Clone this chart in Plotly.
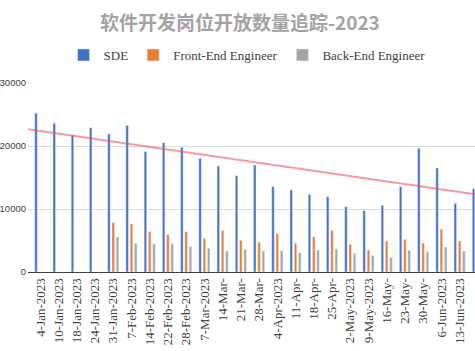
import plotly.graph_objects as go

categories = ["4-Jan-2023", "10-Jan-2023", "18-Jan-2023", "24-Jan-2023", "31-Jan-2023",
              "7-Feb-2023", "14-Feb-2023", "22-Feb-2023", "28-Feb-2023", "7-Mar-2023",
              "14-Mar-", "21-Mar-", "28-Mar-", "4-Apr-2023", "11-Apr-", "18-Apr-",
              "25-Apr-", "2-May-2023", "9-May-2023", "16-May-", "23-May-", "30-May-",
              "6-Jun-2023", "13-Jun-2023", "21-Jun-2023"]

sde = [25190, 23600, 21750, 22900, 21900, 23280, 19100, 20520, 19790, 18040,
       16830, 15290, 16980, 13540, 13020, 12330, 11960, 10370, 9740, 10580,
       13540, 19630, 16510, 10900, 13230]
front_end = [None, None, None, None, 7830, 7620, 6400, 5920, 6400, 5340,
             6560, 5030, 4710, 6080, 4550, 5610, 6610, 4390, 3490, 4920,
             5190, 4550, 6770, 4920, 5000]
back_end = [None, None, None, None, 5600, 4550, 4440, 4550, 4020, 3760,
            3330, 3600, 3330, 3380, 3070, 3490, 3650, 2960, 2590, 2280,
            3440, 3280, 3970, 3330, 3400]

# SDE linear trend, values read at the left and right edges of the plot
trend_values = [22650, 12330]

y_ticks = [0, 10000, 20000, 30000]
y_tick_labels = ["0", "10000", "20000", "30000"]

x_range = [-0.675, 23.845]
idx = list(range(len(categories)))

serif = "Liberation Serif, Times New Roman, serif"

fig = go.Figure()
fig.add_trace(go.Bar(x=idx, y=sde, name="SDE", marker_color="#4472C4"))
fig.add_trace(go.Bar(x=idx, y=front_end, name="Front-End Engineer", marker_color="#ED7D31"))
fig.add_trace(go.Bar(x=idx, y=back_end, name="Back-End Engineer", marker_color="#A5A5A5"))
fig.add_trace(go.Scatter(x=x_range, y=trend_values, mode="lines",
                         line=dict(color="rgba(235,90,100,0.6)", width=2),
                         showlegend=False, hoverinfo="skip"))

fig.update_layout(
    width=475, height=351,
    margin=dict(l=28, r=0, t=83, b=79),
    paper_bgcolor="white", plot_bgcolor="white",
    barmode="group", bargap=0.292, bargroupgap=0.42,
    title=dict(text="<b>软件开发岗位开放数量追踪-2023</b>",
               font=dict(family="Noto Sans CJK SC", size=19, color="#A3A3A3"),
               x=0.505, xanchor="center", y=1 - 23 / 351, yanchor="middle", yref="container"),
    legend=dict(orientation="h", x=0.49, xanchor="center", y=1 - 55 / 351, yanchor="middle",
                yref="container", font=dict(family=serif, size=13, color="#404040"),
                itemwidth=30, traceorder="normal"),
    xaxis=dict(range=x_range, tickmode="array", tickvals=idx, ticktext=categories,
               tickangle=-90, showgrid=False, zeroline=False, showline=True,
               linecolor="#404040", linewidth=1, ticks="",
               tickfont=dict(family=serif, size=13, color="#404040"),
               automargin=False),
    yaxis=dict(range=[0, 30000], tickmode="array", tickvals=y_ticks, ticktext=y_tick_labels,
               showgrid=True, gridcolor="#D9D9D9",
               gridwidth=1, zeroline=False, showline=False, ticks="",
               tickfont=dict(family="Liberation Sans, Arial, sans-serif", size=9.5, color="#404040"),
               ticklabelstandoff=1, automargin=False),
)

fig.write_html("out.html")
